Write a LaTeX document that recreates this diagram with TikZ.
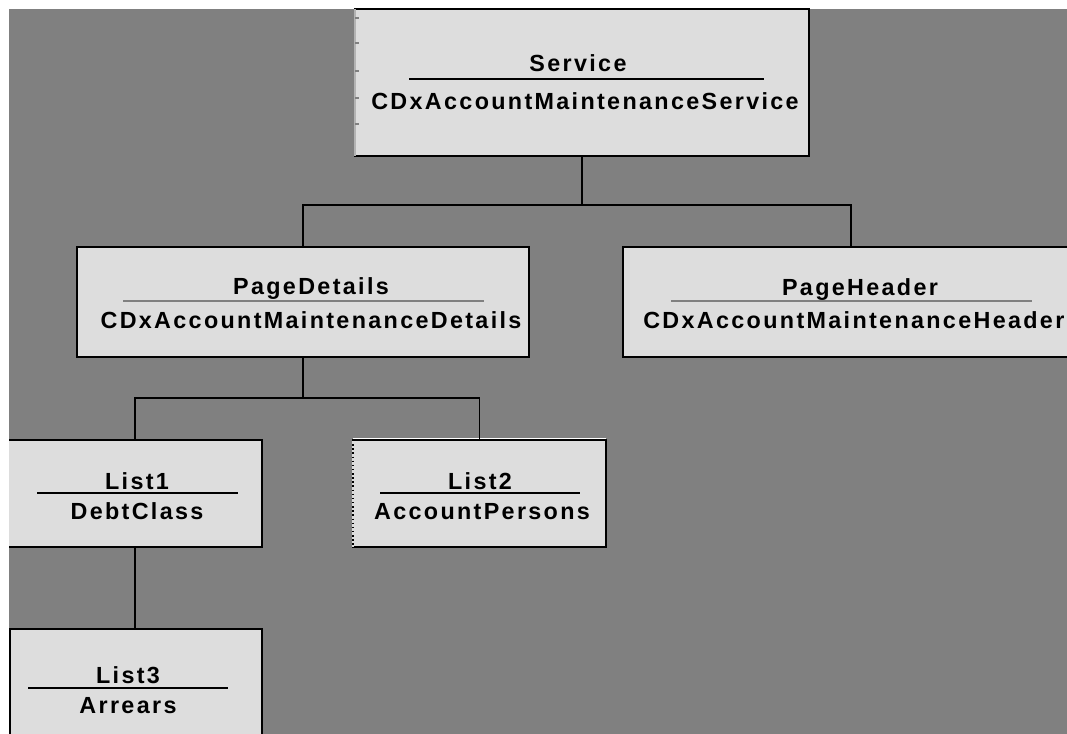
\documentclass[tikz,border=0pt]{standalone}
\usepackage{fontspec}
\newfontfamily\boxfont[LetterSpace=10]{Liberation Sans}
\definecolor{canvas}{HTML}{808080}
\definecolor{boxfill}{HTML}{DDDDDD}
\tikzset{
    box/.style={draw=black, fill=boxfill, line width=1.1pt, inner sep=0pt, outer sep=0pt},
    boxtext/.style={anchor=base, inner sep=0pt, font=\boxfont\bfseries\fontsize{17.5}{20}\selectfont},
    darkrule/.style={draw=black, line width=1.4pt},
    softrule/.style={draw=canvas, line width=0.9pt},
    link/.style={draw=black, line width=1.1pt}
}
\begin{document}
\begin{tikzpicture}[x=0.75pt, y=-0.75pt]
    \useasboundingbox (0,0) rectangle (1067,734);
    \fill[white] (0,0) rectangle (1067,734);
    \fill[canvas] (9,9) rectangle (1067,734);
    \begin{scope}
    \clip (9,9) rectangle (1067,734);
    % Boxes
        \node[box, minimum width=340.5pt, minimum height=110.25pt] (service) at (582,82.5) {};
        \node[box, minimum width=339pt, minimum height=82.5pt] (pagedetails) at (303,302) {};
        \node[box, minimum width=342pt, minimum height=82.5pt] (pageheader) at (851,302) {};
        \node[box, minimum width=190.5pt, minimum height=80.25pt] (list1) at (135,493.5) {};
        \node[box, minimum width=189.75pt, minimum height=80.25pt] (list2) at (479.5,493.5) {};
        \node[box, minimum width=189pt, minimum height=87pt] (list3) at (136,687) {};
        % odd borders
        \draw[canvas!60, line width=1.1pt] (service.north west) -- (service.south west);
        \foreach \y in {18,43,71,98,124}{
            \draw[canvas, line width=0.8pt] (355,\y) -- (359,\y);
        }
        \draw[white, line width=1pt] ([yshift=1.2pt]list2.north west) -- ([yshift=1.2pt]list2.north east);
        \draw[boxfill, line width=1.1pt] (list2.north west) -- (list2.south west);
        \draw[black, line width=1.1pt, dotted] (list2.north west) -- (list2.south west);
    % Connectors
        \draw[link] (service.south) -- ++(0,49) coordinate (fork1);
        \draw[link] (pagedetails.north) |- (fork1) -| (pageheader.north);
        \draw[link] (pagedetails.south) -- ++(0,41) coordinate (fork2);
        \draw[link] (list1.north) |- (fork2) -| (list2.north);
        \draw[link] (list1.south) -- (list1.south |- list3.north);
    % Labels
        \node[boxtext] (servicetitle) at (578,72) {Service};
        \draw[darkrule] (409,79) -- (764,79);
        \node[boxtext] (servicename) at (585,110) {CDxAccountMaintenanceService};
        \node[boxtext] (detailstitle) at (311,295) {PageDetails};
        \draw[softrule] (123,301) -- (484,301);
        \node[boxtext] (detailsname) at (311,328) {CDxAccountMaintenanceDetails};
        \node[boxtext] (headertitle) at (860,296) {PageHeader};
        \draw[softrule] (671,301) -- (1032,301);
        \node[boxtext, anchor=base west] (headername) at (643,328) {CDxAccountMaintenanceHeader};
        \node[boxtext] (list1title) at (137,489) {List1};
        \draw[darkrule] (37,493) -- (238,493);
        \node[boxtext] (list1name) at (137,519) {DebtClass};
        \node[boxtext] (list2title) at (480,489) {List2};
        \draw[darkrule] (380,493) -- (580,493);
        \node[boxtext] (list2name) at (482,519) {AccountPersons};
        \node[boxtext] (list3title) at (128,683) {List3};
        \draw[darkrule] (28,688) -- (228,688);
        \node[boxtext] (list3name) at (128,713) {Arrears};
    \end{scope}
\end{tikzpicture}
\end{document}
